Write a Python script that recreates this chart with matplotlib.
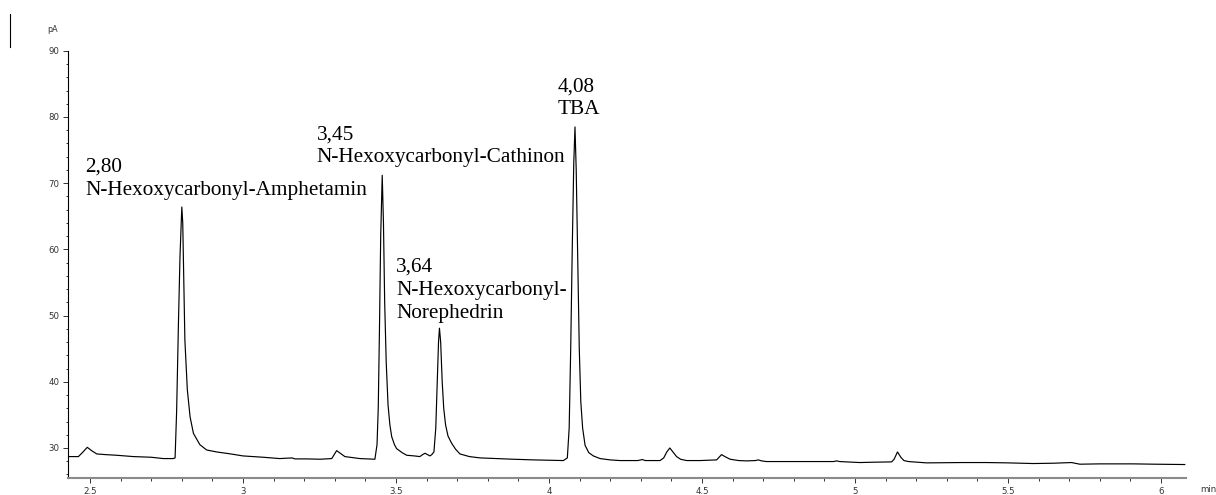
import matplotlib
matplotlib.use("Agg")
import matplotlib.pyplot as plt
from matplotlib.ticker import MultipleLocator, FuncFormatter
from matplotlib.lines import Line2D

# Retention time (min) and detector signal (pA)
time_min = [
    2.429, 2.462, 2.475, 2.491, 2.505, 2.522, 2.55, 2.587, 2.642, 2.70, 2.740, 2.772,
    2.778, 2.783, 2.789, 2.794, 2.800, 2.803, 2.807, 2.810, 2.818, 2.827, 2.838,
    2.859, 2.881, 2.914, 2.96, 3.0, 3.066, 3.12, 3.16, 3.17, 3.21, 3.252, 3.290,
    3.298, 3.306, 3.318, 3.333, 3.382, 3.431, 3.438, 3.442, 3.446, 3.450, 3.455,
    3.459, 3.463, 3.468, 3.474, 3.480, 3.486, 3.495, 3.502, 3.52, 3.535, 3.56,
    3.578, 3.587, 3.595, 3.603, 3.611, 3.617, 3.624, 3.630, 3.635, 3.639, 3.642,
    3.646, 3.651, 3.656, 3.662, 3.670, 3.682, 3.695, 3.709, 3.74, 3.775, 3.83,
    3.883, 3.95, 4.047, 4.060, 4.066, 4.071, 4.076, 4.081, 4.085, 4.089, 4.094,
    4.099, 4.104, 4.110, 4.118, 4.13, 4.145, 4.167, 4.20, 4.232, 4.29, 4.305,
    4.315, 4.363, 4.375, 4.385, 4.395, 4.405, 4.417, 4.43, 4.45, 4.494, 4.548,
    4.556, 4.564, 4.575, 4.592, 4.62, 4.646, 4.675, 4.684, 4.695, 4.711, 4.80,
    4.86, 4.93, 4.94, 4.95, 5.016, 5.06, 5.12, 5.128, 5.139, 5.150, 5.160, 5.175,
    5.234, 5.35, 5.43, 5.50, 5.583, 5.65, 5.708, 5.735, 5.80, 5.91, 5.98, 6.078,
]
signal_pA = [
    28.7, 28.7, 29.3, 30.1, 29.6, 29.1, 29.0, 28.9, 28.7, 28.6, 28.4, 28.4,
    28.5, 35.5, 48.9, 58.9, 66.4, 64.0, 53.9, 46.3, 38.8, 34.7, 32.2,
    30.5, 29.7, 29.4, 29.1, 28.8, 28.6, 28.4, 28.5, 28.35, 28.35, 28.3, 28.4,
    29.0, 29.6, 29.2, 28.7, 28.4, 28.3, 30.5, 36.0, 48.0, 62.0, 71.2,
    64.0, 52.0, 43.0, 36.5, 33.5, 31.7, 30.5, 29.9, 29.3, 28.9, 28.8,
    28.7, 29.0, 29.2, 29.0, 28.8, 29.0, 29.4, 33.0, 40.0, 46.0, 48.1,
    46.0, 40.0, 36.0, 33.5, 31.8, 30.7, 29.8, 29.1, 28.7, 28.5, 28.4,
    28.3, 28.2, 28.1, 28.5, 33.0, 45.0, 60.0, 73.0, 78.5, 72.0, 58.0,
    45.0, 37.0, 33.0, 30.4, 29.3, 28.8, 28.4, 28.2, 28.1, 28.1, 28.25,
    28.1, 28.1, 28.5, 29.4, 30.0, 29.4, 28.7, 28.3, 28.1, 28.1, 28.2,
    28.6, 29.0, 28.7, 28.3, 28.1, 28.05, 28.1, 28.2, 28.05, 27.95, 27.95,
    27.95, 27.95, 28.05, 27.95, 27.8, 27.85, 27.9, 28.3, 29.4, 28.6, 28.1, 27.95,
    27.75, 27.8, 27.8, 27.75, 27.65, 27.7, 27.8, 27.55, 27.6, 27.6, 27.55, 27.5,
]

# Peak annotations: label lines, anchor time, baseline value of each line
peak_labels = [
    ["2,80", "N-Hexoxycarbonyl-Amphetamin"],
    ["3,45", "N-Hexoxycarbonyl-Cathinon"],
    ["3,64", "N-Hexoxycarbonyl-", "Norephedrin"],
    ["4,08", "TBA"],
]
label_x = [2.484, 3.241, 3.500, 4.027]
label_y = [
    [71.69, 68.22],
    [76.53, 73.25],
    [56.63, 53.11, 49.59],
    [83.82, 80.41],
]

xticks = [2.5, 3, 3.5, 4, 4.5, 5, 5.5, 6]
yticks = [30, 40, 50, 60, 70, 80, 90]

W, H = 1216, 495
fig = plt.figure(figsize=(W / 100, H / 100), dpi=100)
ax = fig.add_axes([68 / W, 1 - 478.3 / H, (1186 - 68) / W, (478.3 - 50.8) / H])

ax.plot(time_min, signal_pA, color="black", lw=0.85, solid_joinstyle="round")

ax.set_xlim(2.428, 6.082)
ax.set_ylim(25.42, 90)

ax.set_xticks(xticks)
ax.set_yticks(yticks)
ax.xaxis.set_minor_locator(MultipleLocator(0.1))
ax.yaxis.set_minor_locator(MultipleLocator(2))
fmt = FuncFormatter(lambda v, p: "%g" % v)
ax.xaxis.set_major_formatter(fmt)
ax.yaxis.set_major_formatter(fmt)

for lab in ax.get_xticklabels() + ax.get_yticklabels():
    lab.set_fontfamily("DejaVu Sans")
    lab.set_fontsize(6.2)
    lab.set_color("#333333")

ax.tick_params(axis="both", which="major", length=3.6, width=0.7, color="#333333", pad=2.5)
ax.tick_params(axis="both", which="minor", length=1.8, width=0.7, color="#333333")
ax.tick_params(axis="x", which="major", pad=3)

ax.spines["top"].set_visible(False)
ax.spines["right"].set_visible(False)
ax.spines["left"].set_color("black")
ax.spines["left"].set_linewidth(0.8)
ax.spines["bottom"].set_color("#8a8a8a")
ax.spines["bottom"].set_linewidth(1.5)

# axis unit labels
fig.text(47 / W, 1 - 30 / H, "pA", fontfamily="DejaVu Sans", fontsize=5.8,
         color="#333333", va="center", ha="left")
fig.text(1200 / W, 1 - 490 / H, "min", fontfamily="DejaVu Sans", fontsize=6.2,
         color="#333333", va="center", ha="left")

# small vertical mark in the upper-left corner
fig.add_artist(Line2D([9.5 / W, 9.5 / W], [1 - 14 / H, 1 - 47 / H],
                      color="black", lw=0.8, transform=fig.transFigure))

for lines, x0, ys in zip(peak_labels, label_x, label_y):
    for txt, y0 in zip(lines, ys):
        ax.text(x0, y0, txt, fontfamily="Liberation Serif", fontsize=15.3,
                ha="left", va="baseline", color="black")

fig.savefig("out.png", dpi=100)
